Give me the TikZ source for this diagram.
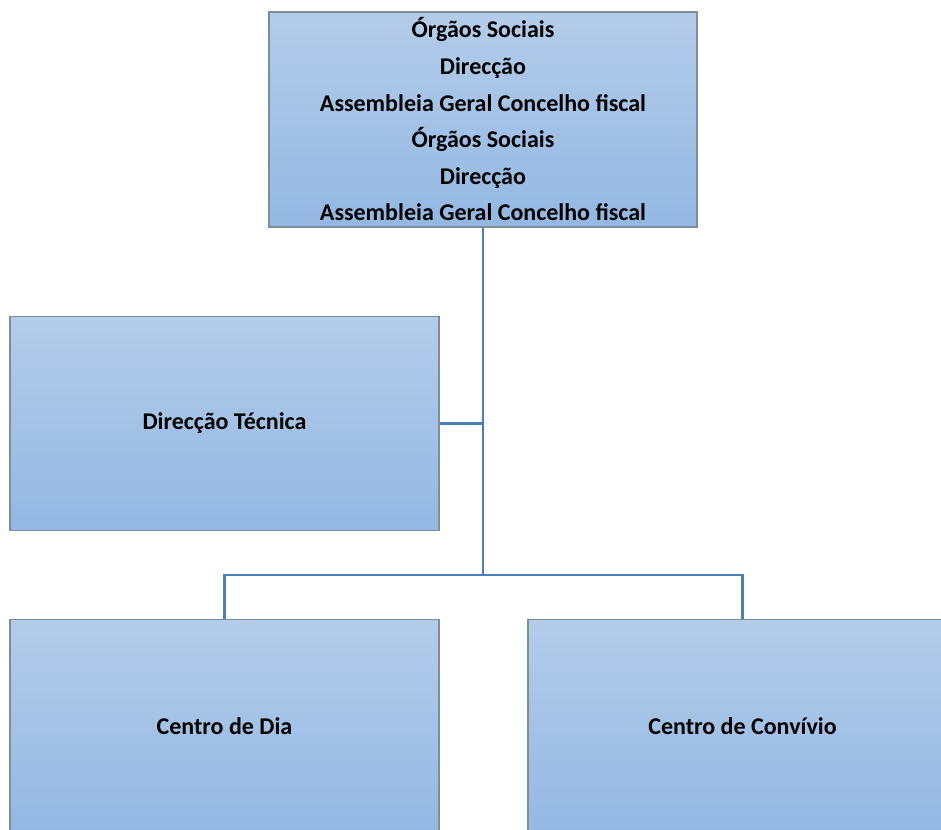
\documentclass[tikz,border=0pt]{standalone}
\usepackage{fontspec}
\setmainfont{Carlito}
\usetikzlibrary{positioning}
\definecolor{boxtop}{HTML}{B3CCE9}
\definecolor{boxbottom}{HTML}{94B8E3}
\definecolor{boxline}{HTML}{7F8C99}
\definecolor{linkblue}{HTML}{4A7EBB}
\tikzset{%
  % Specifications for style of nodes:
            unit/.style = {rectangle, draw=boxline, line width=1.2pt,
                            top color=boxtop, bottom color=boxbottom,
                            minimum width=429pt, minimum height=214pt,
                            inner sep=0pt, font=\bfseries\fontsize{24}{36.6}\selectfont,
                            align=center},
            link/.style = {draw=linkblue, line width=2.6pt}
}
\begin{document}
\begin{tikzpicture}[x=1pt, y=-1pt]
                        \clip (0,0) rectangle (941,829);
                        \useasboundingbox (0,0) rectangle (941,829);
                        \node[unit, minimum width=428pt, minimum height=215pt] (orgaos) at (483,119.5)
                            {Órgãos Sociais\\Direcção\\Assembleia Geral Concelho fiscal\\Órgãos Sociais\\Direcção\\Assembleia Geral Concelho fiscal};
                        \node[unit] (tecnica) at (224.5,423.5){Direcção Técnica};
                        \node[unit] (dia) at (224.5,726.5){Centro de Dia};
                        \node[unit] (convivio) at (742.5,726.5){Centro de Convívio};
                        \coordinate (hub) at (483,575);
                        \draw[link] (orgaos.south)--(hub);
                        \draw[link] (tecnica.east)--(tecnica.east -| hub);
                        \draw[link] (hub)-|(dia.north);
                        \draw[link] (hub)-|(convivio.north);
                    \end{tikzpicture}
\end{document}
